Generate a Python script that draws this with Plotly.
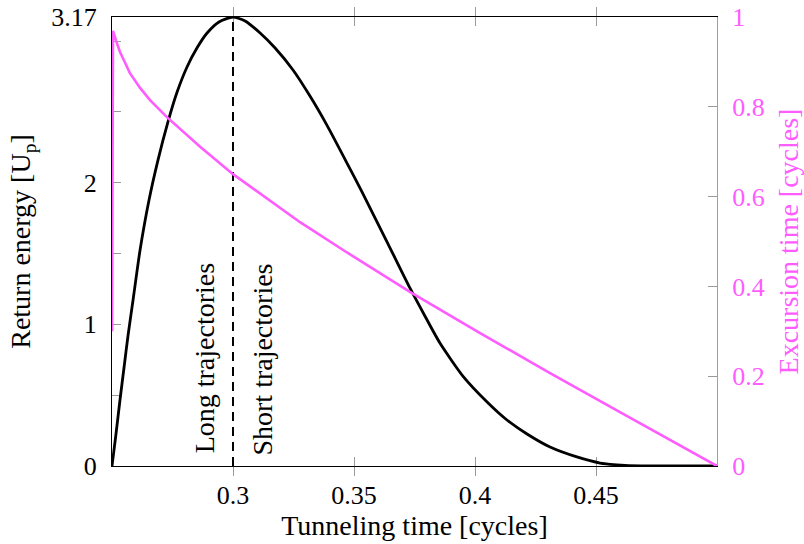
import plotly.graph_objects as go

# Return energy of the recolliding electron vs. tunneling time
tunnel_time = [0.2500, 0.2517, 0.2533, 0.2550, 0.2566, 0.2587, 0.2616, 0.2653,
               0.2690, 0.2731, 0.2769, 0.2810, 0.2851, 0.2893, 0.2942, 0.3000,
               0.3050, 0.3112, 0.3174, 0.3248, 0.3318, 0.3388, 0.3471, 0.3533,
               0.3641, 0.3731, 0.3793, 0.3855, 0.3950, 0.4050, 0.4132, 0.4215,
               0.4310, 0.4421, 0.4517, 0.4620, 0.4723, 0.4850, 0.5000]
return_energy = [0.000, 0.233, 0.466, 0.699, 0.918, 1.172, 1.525, 1.878,
                 2.160, 2.428, 2.640, 2.817, 2.951, 3.057, 3.135, 3.170,
                 3.142, 3.057, 2.951, 2.796, 2.612, 2.407, 2.139, 1.935,
                 1.567, 1.257, 1.059, 0.868, 0.635, 0.452, 0.325, 0.226,
                 0.134, 0.064, 0.021, 0.005, 0.001, 0.000, 0.000]

# Excursion time (tunneling -> return) vs. tunneling time
exc_tunnel_time = [0.2500, 0.2504, 0.2517, 0.2533, 0.2554, 0.2574, 0.2616, 0.2657,
                   0.2727, 0.2864, 0.3000, 0.3141, 0.3277, 0.3455, 0.3731, 0.4021,
                   0.4310, 0.4599, 0.5000]
excursion_time = [0.300, 0.969, 0.947, 0.922, 0.898, 0.875, 0.842, 0.815,
                  0.777, 0.711, 0.650, 0.595, 0.543, 0.481, 0.388, 0.296,
                  0.207, 0.120, 0.000]

# Cutoff marker separating long and short trajectories
cutoff_time = 0.3
cutoff_energy = 3.17

x_ticks = [0.3, 0.35, 0.4, 0.45]
y_ticks = [0, 1, 2, 3.17]
y_ticklabels = ["0", "1", "2", "3.17"]
y_minor_ticks = [0.5, 1.5, 2.5, 3.0]
y2_ticks = [0, 0.2, 0.4, 0.6, 0.8, 1]
y2_ticklabels = ["0", "0.2", "0.4", "0.6", "0.8", "1"]

PINK = "#ff5cff"
FONT = "Liberation Serif"
TICK_GREY = "#9a9a9a"
TICK_SIZE = 26
LABEL_SIZE = 28

fig = go.Figure()

fig.add_trace(go.Scatter(
    x=exc_tunnel_time, y=excursion_time, mode="lines", yaxis="y2",
    line=dict(color=PINK, width=2.6), showlegend=False,
))
fig.add_trace(go.Scatter(
    x=tunnel_time, y=return_energy, mode="lines",
    line=dict(color="black", width=2.8, shape="spline", smoothing=0.6),
    showlegend=False,
))
fig.add_trace(go.Scatter(
    x=[cutoff_time, cutoff_time], y=[0, cutoff_energy], mode="lines",
    line=dict(color="black", width=2, dash="9px,6px"), showlegend=False,
))

fig.add_annotation(x=0.288, y=0.075, xref="x", yref="y", text="Long trajectories",
                   textangle=-90, showarrow=False, xanchor="center", yanchor="bottom",
                   font=dict(family=FONT, size=LABEL_SIZE, color="black"))
fig.add_annotation(x=0.312, y=0.06, xref="x", yref="y", text="Short trajectories",
                   textangle=-90, showarrow=False, xanchor="center", yanchor="bottom",
                   font=dict(family=FONT, size=LABEL_SIZE, color="black"))

fig.update_layout(
    width=804, height=544,
    margin=dict(l=112, r=87, t=17, b=78, autoexpand=False),
    paper_bgcolor="white", plot_bgcolor="white",
    font=dict(family=FONT, size=TICK_SIZE, color="black"),
    xaxis=dict(
        range=[0.25, 0.5], tickvals=x_ticks, ticktext=[str(v) for v in x_ticks],
        ticks="inside", ticklen=9, tickcolor=TICK_GREY, tickwidth=1,
        showline=True, linecolor="black", linewidth=1, mirror="allticks",
        showgrid=False, zeroline=False, layer="below traces",
        ticklabelstandoff=6, automargin=False,
        title=dict(text="Tunneling time [cycles]", standoff=5,
                   font=dict(family=FONT, size=LABEL_SIZE)),
    ),
    yaxis=dict(
        range=[0, 3.17], tickvals=y_ticks, ticktext=y_ticklabels,
        ticks="inside", ticklen=9, tickcolor=TICK_GREY, tickwidth=1,
        minor=dict(tickvals=y_minor_ticks, ticks="inside", ticklen=9,
                   tickcolor=TICK_GREY, tickwidth=1, showgrid=False),
        showline=True, linecolor="black", linewidth=1,
        showgrid=False, zeroline=False, layer="below traces",
        ticklabelstandoff=9, automargin=False,
        title=dict(text="Return energy [U<sub>p</sub>]", standoff=12,
                   font=dict(family=FONT, size=LABEL_SIZE)),
    ),
    yaxis2=dict(
        range=[0, 1], tickvals=y2_ticks, ticktext=y2_ticklabels,
        overlaying="y", side="right",
        ticks="inside", ticklen=9, tickcolor=TICK_GREY, tickwidth=1,
        showline=True, linecolor=PINK, linewidth=1.2,
        tickfont=dict(color=PINK, family=FONT, size=TICK_SIZE),
        showgrid=False, zeroline=False, layer="below traces",
        ticklabelstandoff=9, automargin=False,
        title=dict(text="Excursion time [cycles]", standoff=17,
                   font=dict(family=FONT, size=LABEL_SIZE, color=PINK)),
    ),
)

fig.write_html("out.html")
